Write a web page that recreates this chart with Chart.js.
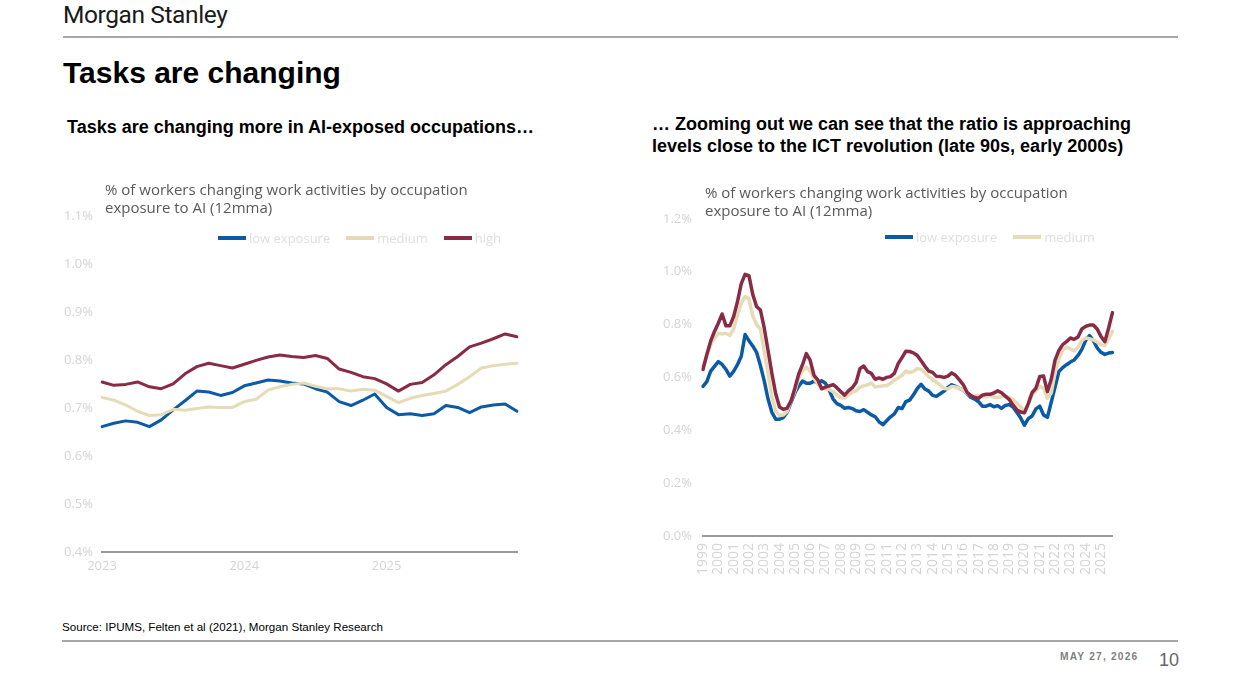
<!DOCTYPE html>
<html lang="en">
<head>
<meta charset="utf-8">
<title>Tasks are changing</title>
<script src="https://cdn.jsdelivr.net/npm/chart.js@4.4.1/dist/chart.umd.min.js"></script>
<style>
  html, body { margin: 0; padding: 0; background: #fff; }
  body { position: relative; width: 1240px; height: 676px; overflow: hidden; font-family: "Liberation Sans", Arial, sans-serif; color: #000; }
  .abs { position: absolute; white-space: nowrap; }
  .rule { position: absolute; left: 63px; width: 1115px; height: 2px; background: #a6a6a6; }
  .brand { left: 63px; top: 3px; font-family: Roboto, sans-serif; font-size: 24.5px; line-height: 24px; color: #1a1a1a; letter-spacing: -0.4px; }
  .title { left: 63px; top: 58px; font-size: 30px; line-height: 30px; font-weight: bold; }
  .sub { font-size: 18px; font-weight: bold; line-height: 22px; }
  .source { left: 62px; top: 621px; font-size: 11.6px; line-height: 11px; }
  .date { left: 1060px; top: 651px; font-size: 10.2px; font-weight: bold; color: #7f7f7f; letter-spacing: 1.2px; }
  .page { left: 1159px; top: 650px; font-size: 18px; color: #666; }
  .ctitle { font-family: "Open Sans", sans-serif; font-size: 15px; line-height: 18px; color: #595959; }
  .legend { display: flex; align-items: center; font-family: "Open Sans", sans-serif; font-size: 13px; color: #dedede; }
  .legend .item { display: flex; align-items: center; margin-right: 16px; }
  .legend .swatch { width: 28px; height: 4px; margin-right: 3px; }
  canvas { position: absolute; }
</style>
</head>
<body>
  <div class="abs brand">Morgan Stanley</div>
  <div class="rule" style="top:36px"></div>
  <div class="abs title">Tasks are changing</div>

  <div class="abs sub" style="left:67px; top:116px">Tasks are changing more in AI-exposed occupations…</div>
  <div class="abs sub" style="left:652px; top:113px">… Zooming out we can see that the ratio is approaching<br>levels close to the ICT revolution (late 90s, early 2000s)</div>

  <canvas id="chartLeft" width="470" height="386" style="left:55px; top:199px"></canvas>
  <canvas id="chartRight" width="475" height="386" style="left:650px; top:200px"></canvas>

  <div class="abs ctitle" style="left:105px; top:180px">% of workers changing work activities by occupation<br>exposure to AI (12mma)</div>
  <div class="abs ctitle" style="left:705px; top:183px">% of workers changing work activities by occupation<br>exposure to AI (12mma)</div>

  <div class="abs legend" id="legendLeft" style="left:218px; top:229px"></div>
  <div class="abs legend" id="legendRight" style="left:885px; top:228px"></div>

  <div class="abs source">Source: IPUMS, Felten et al (2021), Morgan Stanley Research</div>
  <div class="rule" style="top:640px; left:62px; width:1116px"></div>
  <div class="abs date">MAY 27, 2026</div>
  <div class="abs page">10</div>

<script>
// === DONNÉES : graphique de gauche (mensuel, 2023-2025) ===
const YEARS_L = [2023, 2024, 2025];
const Y_TICKS_L = [0.4, 0.5, 0.6, 0.7, 0.8, 0.9, 1.0, 1.1];
const LOW_L = [0.661, 0.668, 0.673, 0.670, 0.661, 0.675, 0.696, 0.715, 0.735, 0.733, 0.726, 0.732,
               0.746, 0.752, 0.758, 0.756, 0.752, 0.750, 0.740, 0.733, 0.713, 0.705, 0.716, 0.729,
               0.701, 0.686, 0.688, 0.684, 0.688, 0.705, 0.701, 0.690, 0.702, 0.706, 0.708, 0.693];
const MED_L = [0.722, 0.716, 0.706, 0.693, 0.684, 0.686, 0.697, 0.695, 0.699, 0.702, 0.701, 0.701,
               0.713, 0.718, 0.737, 0.744, 0.749, 0.752, 0.745, 0.740, 0.740, 0.735, 0.739, 0.737,
               0.724, 0.711, 0.720, 0.726, 0.730, 0.735, 0.749, 0.765, 0.783, 0.788, 0.791, 0.793];
const HIGH_L = [0.754, 0.747, 0.749, 0.754, 0.744, 0.740, 0.750, 0.771, 0.786, 0.793, 0.788, 0.783,
                0.791, 0.799, 0.806, 0.810, 0.807, 0.805, 0.809, 0.803, 0.781, 0.774, 0.765, 0.761,
                0.750, 0.735, 0.749, 0.753, 0.769, 0.790, 0.807, 0.827, 0.835, 0.844, 0.854, 0.848];

// === DONNÉES : graphique de droite (trimestriel, 1999-2025) ===
const YEARS_R = [1999, 2000, 2001, 2002, 2003, 2004, 2005, 2006, 2007, 2008, 2009, 2010, 2011, 2012,
                 2013, 2014, 2015, 2016, 2017, 2018, 2019, 2020, 2021, 2022, 2023, 2024, 2025];
const Y_TICKS_R = [0.0, 0.2, 0.4, 0.6, 0.8, 1.0, 1.2];
const LOW_R = [0.566, 0.584, 0.624, 0.642, 0.660, 0.649, 0.630, 0.605, 0.623, 0.648,
               0.680, 0.762, 0.739, 0.719, 0.695, 0.645, 0.587, 0.518, 0.468, 0.442,
               0.442, 0.448, 0.468, 0.506, 0.541, 0.567, 0.586, 0.578, 0.578, 0.586,
               0.579, 0.587, 0.578, 0.551, 0.518, 0.501, 0.494, 0.483, 0.486, 0.482,
               0.474, 0.471, 0.478, 0.468, 0.458, 0.451, 0.432, 0.421, 0.436, 0.451,
               0.462, 0.486, 0.482, 0.508, 0.514, 0.534, 0.558, 0.574, 0.556, 0.548,
               0.532, 0.528, 0.538, 0.548, 0.562, 0.572, 0.566, 0.559, 0.552, 0.539,
               0.524, 0.518, 0.508, 0.491, 0.491, 0.497, 0.489, 0.493, 0.483, 0.494,
               0.497, 0.488, 0.468, 0.447, 0.419, 0.444, 0.454, 0.481, 0.491, 0.458,
               0.449, 0.506, 0.563, 0.622, 0.637, 0.648, 0.658, 0.666, 0.683, 0.706,
               0.740, 0.758, 0.739, 0.712, 0.695, 0.687, 0.692, 0.694];
const MED_R = [0.643, 0.680, 0.724, 0.748, 0.767, 0.764, 0.767, 0.759, 0.783, 0.835,
               0.880, 0.906, 0.898, 0.833, 0.799, 0.783, 0.699, 0.614, 0.528, 0.473,
               0.456, 0.458, 0.471, 0.511, 0.548, 0.598, 0.625, 0.639, 0.624, 0.597,
               0.574, 0.561, 0.557, 0.554, 0.546, 0.533, 0.523, 0.522, 0.533, 0.544,
               0.549, 0.563, 0.568, 0.572, 0.579, 0.564, 0.566, 0.568, 0.569, 0.579,
               0.589, 0.598, 0.608, 0.624, 0.618, 0.623, 0.634, 0.630, 0.617, 0.602,
               0.592, 0.581, 0.571, 0.558, 0.556, 0.566, 0.564, 0.559, 0.552, 0.541,
               0.531, 0.529, 0.532, 0.528, 0.527, 0.531, 0.526, 0.524, 0.527, 0.529,
               0.524, 0.516, 0.503, 0.488, 0.472, 0.499, 0.533, 0.549, 0.566, 0.559,
               0.521, 0.541, 0.618, 0.669, 0.703, 0.715, 0.708, 0.700, 0.714, 0.740,
               0.749, 0.746, 0.742, 0.734, 0.724, 0.720, 0.746, 0.774];
const HIGH_R = [0.630, 0.687, 0.737, 0.774, 0.805, 0.840, 0.795, 0.795, 0.830, 0.886,
                0.955, 0.990, 0.985, 0.914, 0.868, 0.855, 0.787, 0.702, 0.615, 0.538,
                0.488, 0.479, 0.484, 0.511, 0.559, 0.612, 0.648, 0.690, 0.665, 0.608,
                0.591, 0.557, 0.563, 0.568, 0.573, 0.561, 0.546, 0.533, 0.549, 0.561,
                0.581, 0.633, 0.643, 0.622, 0.615, 0.593, 0.598, 0.593, 0.600, 0.603,
                0.615, 0.652, 0.675, 0.699, 0.698, 0.693, 0.683, 0.663, 0.642, 0.624,
                0.619, 0.604, 0.603, 0.600, 0.605, 0.617, 0.608, 0.591, 0.573, 0.544,
                0.531, 0.524, 0.521, 0.533, 0.536, 0.536, 0.541, 0.549, 0.542, 0.529,
                0.517, 0.496, 0.478, 0.469, 0.466, 0.501, 0.543, 0.559, 0.603, 0.605,
                0.546, 0.593, 0.665, 0.702, 0.724, 0.735, 0.749, 0.744, 0.753, 0.783,
                0.793, 0.798, 0.798, 0.783, 0.755, 0.735, 0.787, 0.845];

// Séries : nom, couleur (ordre de la légende)
const SERIES_NAMES = ["low exposure", "medium", "high"];
const SERIES_COLORS = ["#0b5aa6", "#e6dbb6", "#8a2b45"];
const TICK_COLOR = "#d4d4d4";
const AXIS_COLOR = "#9a9a9a";

Chart.defaults.font.family = "'Open Sans', sans-serif";

// Libellés de catégories construits à partir des années
const LABELS_L = YEARS_L.flatMap(y => Array.from({ length: 12 }, (_, m) => `${y}-${m + 1}`));
const LABELS_R = YEARS_R.flatMap(y => [1, 2, 3, 4].map(q => `${y} Q${q}`));

function makeDatasets(low, med, high, width) {
    // rouge au-dessus, puis beige, puis bleu
    return [low, med, high].map((data, i) => ({
        label: SERIES_NAMES[i],
        data: data,
        borderColor: SERIES_COLORS[i],
        backgroundColor: SERIES_COLORS[i],
        borderWidth: width,
        order: 3 - i,
    }));
}

function makeOptions(cfg) {
    return {
        responsive: false,
        animation: false,
        layout: { padding: { top: cfg.padTop, right: cfg.padRight, left: 0, bottom: 0 } },
        plugins: { legend: { display: false }, tooltip: { enabled: false } },
        elements: {
            point: { radius: 0 },
            line: { tension: 0, borderJoinStyle: "round", borderCapStyle: "round" },
        },
        scales: {
            x: {
                grid: { display: false, drawTicks: false },
                border: { display: true, color: AXIS_COLOR, width: 2 },
                ticks: {
                    autoSkip: false,
                    maxRotation: cfg.rot,
                    minRotation: cfg.rot,
                    padding: cfg.xPad,
                    color: TICK_COLOR,
                    font: { size: cfg.xFont },
                    callback: (v, i) => (i % cfg.every === 0 ? String(cfg.years[i / cfg.every]) : null),
                },
                afterFit: s => { s.height = cfg.xHeight; },
            },
            y: {
                min: cfg.yTicks[0],
                max: cfg.yTicks[cfg.yTicks.length - 1],
                grid: { display: false, drawTicks: false },
                border: { display: false },
                ticks: {
                    color: TICK_COLOR,
                    padding: cfg.yPad,
                    font: { size: 13 },
                    callback: v => v.toFixed(1) + "%",
                },
                afterBuildTicks: s => { s.ticks = cfg.yTicks.map(v => ({ value: v })); },
                afterFit: s => { s.width = cfg.yWidth; },
            },
        },
    };
}

// Légende HTML (la légende de droite est tronquée dans l'original)
function buildLegend(id, count) {
    const box = document.getElementById(id);
    for (let i = 0; i < count; i++) {
        const item = document.createElement("div");
        item.className = "item";
        item.innerHTML = `<span class="swatch" style="background:${SERIES_COLORS[i]}"></span>${SERIES_NAMES[i]}`;
        box.appendChild(item);
    }
}

new Chart(document.getElementById("chartLeft"), {
    type: "line",
    data: { labels: LABELS_L, datasets: makeDatasets(LOW_L, MED_L, HIGH_L, 3) },
    options: makeOptions({
        years: YEARS_L, every: 12, rot: 0, xPad: 6, xHeight: 33, xFont: 13,
        yTicks: Y_TICKS_L, yPad: 9, yWidth: 47, padTop: 14, padRight: 8,
    }),
});

new Chart(document.getElementById("chartRight"), {
    type: "line",
    data: { labels: LABELS_R, datasets: makeDatasets(LOW_R, MED_R, HIGH_R, 3.5) },
    options: makeOptions({
        years: YEARS_R, every: 4, rot: 90, xPad: 7, xHeight: 50, xFont: 14,
        yTicks: Y_TICKS_R, yPad: 11, yWidth: 53, padTop: 15, padRight: 8,
    }),
});

buildLegend("legendLeft", 3);
buildLegend("legendRight", 2);
</script>
</body>
</html>
